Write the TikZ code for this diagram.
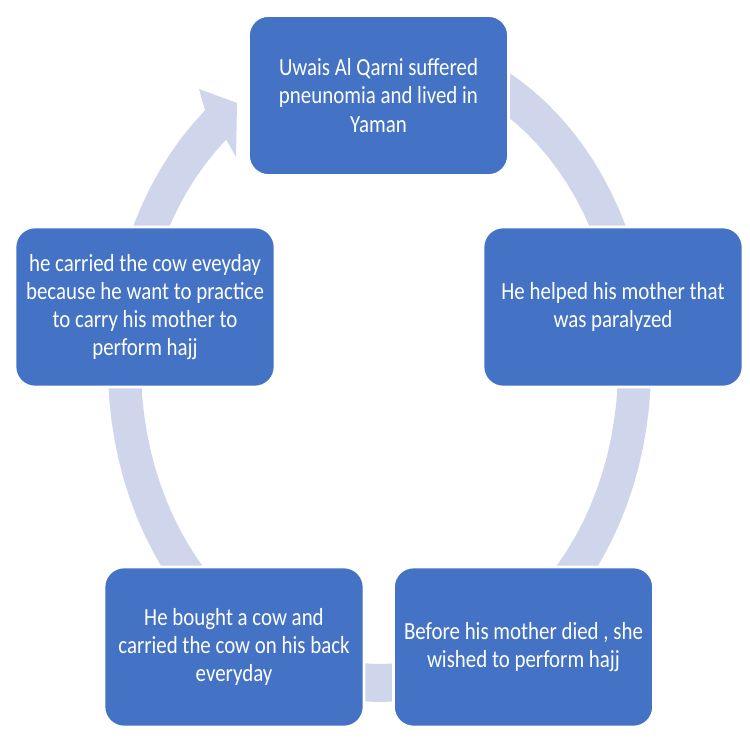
\documentclass[tikz,border=0pt]{standalone}
\usepackage{fontspec}
\setmainfont{Carlito}[FakeStretch=0.85]
\definecolor{boxblue}{HTML}{4472C4}
\definecolor{ringblue}{HTML}{CFD5EA}

\begin{document}
\begin{tikzpicture}[x=0.02cm, y=-0.02cm,
    cyclebox/.style={draw=white, line width=1.5pt, fill=boxblue, rounded corners=0.4cm,
        minimum width=5.2cm, minimum height=3.2cm, text=white, align=center,
        font=\fontsize{14}{16}\selectfont}]
    \useasboundingbox (0,0) rectangle (750,750);
\fill[ringblue] plot[domain=80:-230, samples=90] ({379.5+271.5*cos(\x)}, {367-335*sin(\x)})
    -- (199,89) -- (237,103) -- (236,157)
    -- plot[domain=-230:80, samples=90] ({379.5+238.5*cos(\x)}, {367-297*sin(\x)}) -- cycle ; % ring
\node[cyclebox] (uwais) at (378.5,95.5) {Uwais Al Qarni suffered\\pneunomia and lived in\\Yaman}; % Step.1
\node[cyclebox] (helped) at (613,307) {He helped his mother that\\was paralyzed}; % Step.2
\node[cyclebox] (wished) at (523.5,647) {Before his mother died , she\\wished to perform hajj}; % Step.3
\node[cyclebox] (bought) at (234,647) {He bought a cow and\\carried the cow on his back\\everyday}; % Step.4
\node[cyclebox] (carried) at (145,307) {he carried the cow eveyday\\because he want to practice\\to carry his mother to\\perform hajj}; % Step.5

    \end{tikzpicture}
\end{document}
